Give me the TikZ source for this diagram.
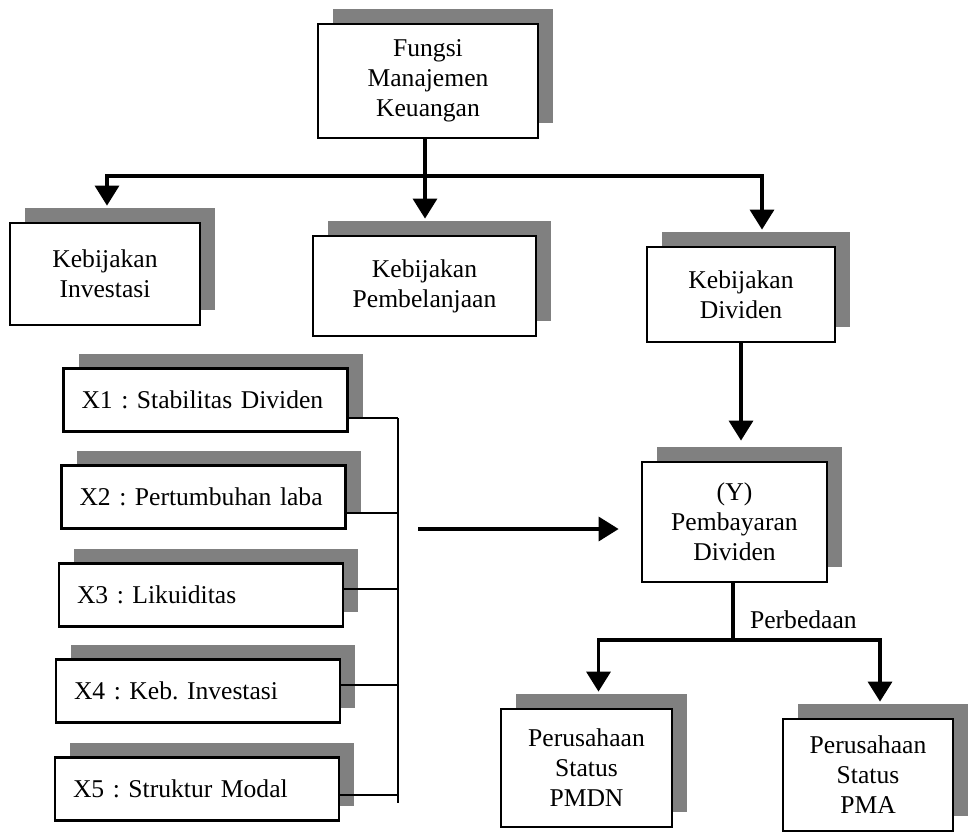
\documentclass[tikz,border=0pt]{standalone}
\usepackage{fontspec}
\setmainfont{Liberation Serif}
\usetikzlibrary{arrows.meta,shadows,calc}
\frenchspacing
\tikzset{box/.style={%
        draw,
        fill=white,
        line width=1.4pt,
        inner sep=0pt,
        align=center,
        font=\fontsize{12.8}{15}\selectfont,
        general shadow={fill=black!50,draw=none,shadow xshift=7.5pt,shadow yshift=7.5pt}}}
\tikzset{varbox/.style={box,align=left,inner xsep=9pt,text width=124pt,minimum height=31.5pt}}
\tikzset{link/.style={line width=1.7pt,-{Triangle[width=12pt,length=10pt]},shorten >=8pt}}
\tikzset{line/.style={line width=1.7pt}}
\tikzset{bracket/.style={line width=1pt}}

\begin{document}
\begin{tikzpicture}[x=0.5pt,y=-0.5pt]
  \useasboundingbox (0,0) rectangle (973,835);
  \node [box,minimum width=110pt,minimum height=57pt] (fmk) at (428,81) {Fungsi\\Manajemen\\Keuangan};
  \node [box,minimum width=95pt,minimum height=51pt] (kinv) at (105,274) {Kebijakan\\Investasi};
  \node [box,minimum width=111.5pt,minimum height=50pt] (kpem) at (424.5,286) {Kebijakan\\Pembelanjaan};
  \node [box,minimum width=94pt,minimum height=47.5pt] (kdiv) at (741,294.5) {Kebijakan\\Dividen};
  \node [box,minimum width=92.5pt,minimum height=60pt] (pd) at (734.5,522) {(Y)\\Pembayaran\\Dividen};
  \node [varbox] (x1) at (205.5,400) {X1 : Stabilitas Dividen};
  \node [varbox] (x2) at (203.5,497) {X2 : Pertumbuhan laba};
  \node [varbox] (x3) at (201,595) {X3 : Likuiditas};
  \node [varbox] (x4) at (198,691) {X4 : Keb. Investasi};
  \node [varbox] (x5) at (197,789) {X5 : Struktur Modal};
  \node [box,minimum width=85.5pt,minimum height=59pt] (pmdn) at (586.5,768) {Perusahaan\\Status\\PMDN};
  \node [box,minimum width=85pt,minimum height=56pt] (pma) at (868,775) {Perusahaan\\Status\\PMA};
  \node [font=\fontsize{12.8}{15}\selectfont,anchor=west] (beda) at (743,620) {Perbedaan};

  \coordinate (c1) at (425,176);
  \draw [line] (c1 |- fmk.south) -- (c1);
  \draw [link] (c1) -| ([xshift=1pt]kinv.north);
  \draw [link] (c1) -- (c1 |- kpem.north);
  \draw [link] (c1) -| ([xshift=10.5pt]kdiv.north);
  \draw [link,shorten >=10pt] (kdiv.south) -- (kdiv.south |- pd.north);

  \coordinate (c2) at (733,640);
  \draw [line] (c2 |- pd.south) -- (c2);
  \draw [link] (c2) -| ([xshift=6pt]pmdn.north);
  \draw [link] (c2) -| ([xshift=6pt]pma.north);

  \coordinate (c3) at (398,418);
  \foreach \i/\dy in {1/-9,2/-8,3/3,4/3,5/-3}
    \draw [bracket] ([yshift=\dy pt]x\i.east) -- ([yshift=\dy pt]x\i.east -| c3);
  \draw [bracket] ([yshift=-9pt]x1.east -| c3) -- ([yshift=-7pt]x5.east -| c3);
  \coordinate (c4) at (418,529);
  \draw [link,shorten >=11pt] (c4) -- (c4 -| pd.west);
\end{tikzpicture}
\end{document}
